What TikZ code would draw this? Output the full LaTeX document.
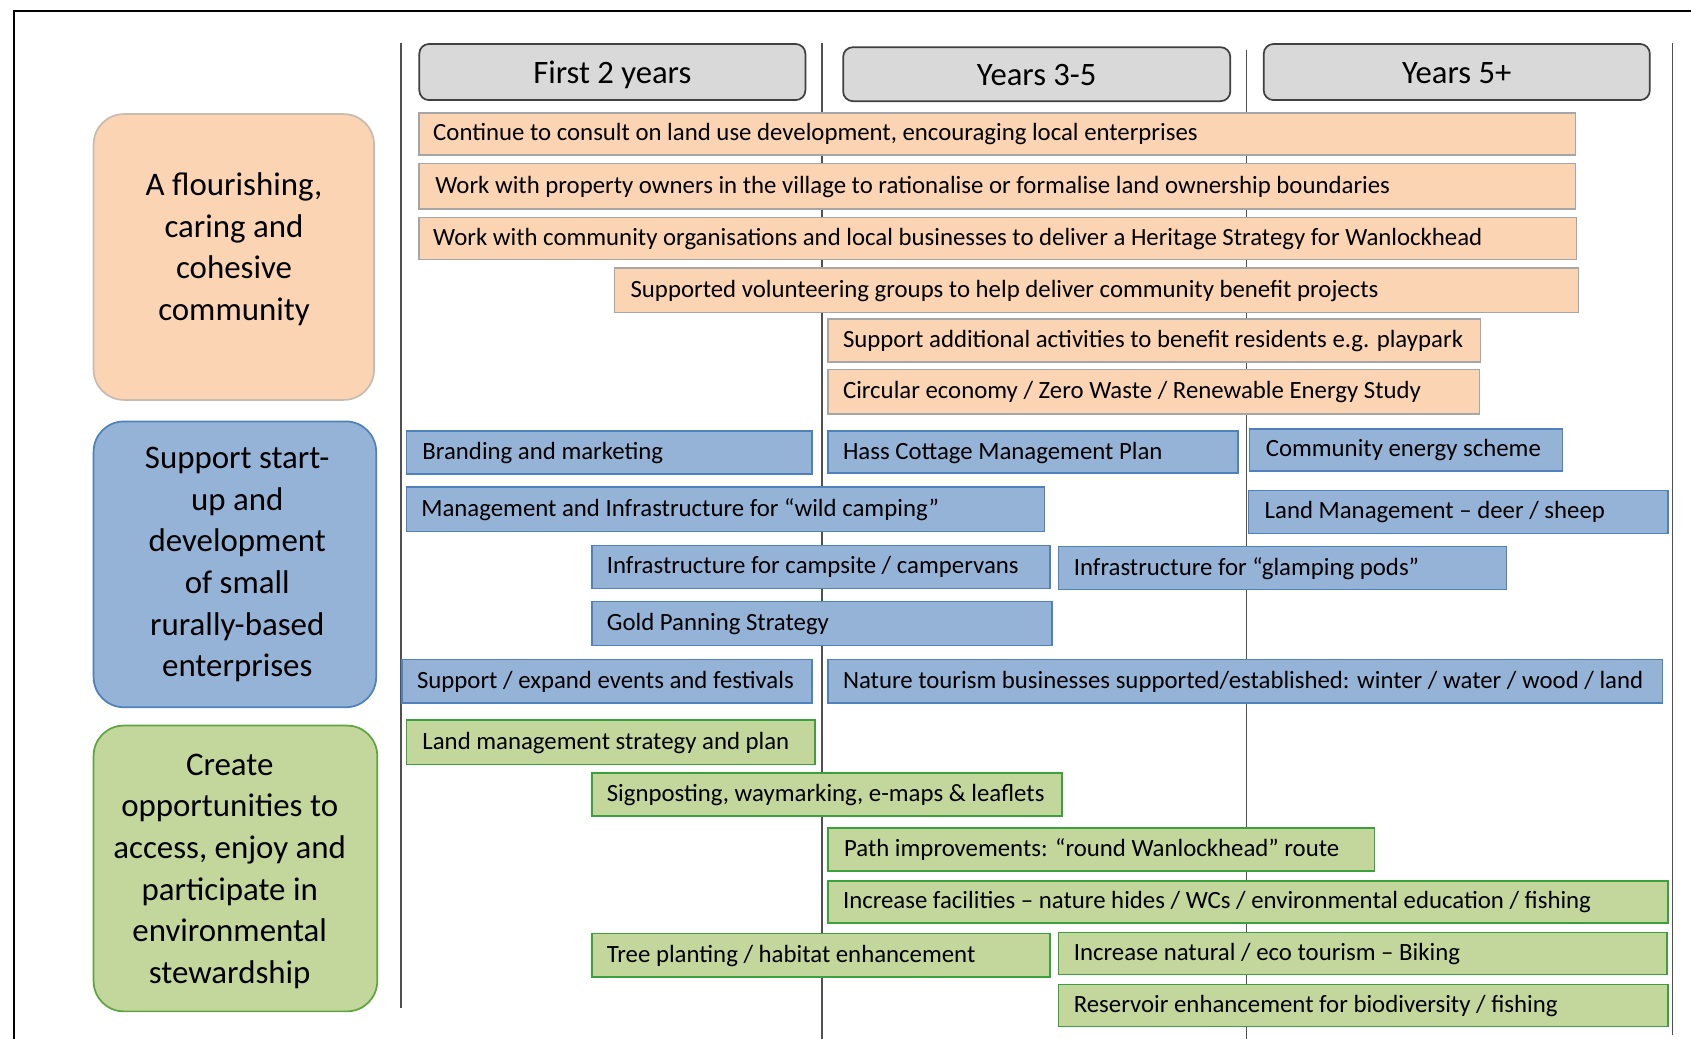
\documentclass[tikz,border=0pt]{standalone}
\usepackage{fontspec}
\setmainfont{Carlito}
\definecolor{peach}{HTML}{FBD4B4}
\definecolor{peachline}{HTML}{A6A6A6}
\definecolor{peachcat}{HTML}{C9BBAE}
\definecolor{bluef}{HTML}{95B3D7}
\definecolor{blueline}{HTML}{4F81BD}
\definecolor{greenf}{HTML}{C3D69B}
\definecolor{greenline}{HTML}{3CA03C}
\definecolor{greencat}{HTML}{5EA540}
\definecolor{hdrf}{HTML}{D9D9D9}
\definecolor{hdrline}{HTML}{404040}
\definecolor{gridc}{HTML}{505050}
\tikzset{
  barbase/.style={draw, line width=1.4pt, inner ysep=0pt, font=\fontsize{23}{27}\selectfont, text height=17pt, text depth=4pt},
  ob/.style={barbase, fill=peach, draw=peachline},
  bb/.style={barbase, fill=bluef, draw=blueline},
  gb/.style={barbase, fill=greenf, draw=greenline},
  hdr/.style={draw=hdrline, fill=hdrf, rounded corners=9pt, line width=1.6pt, anchor=north west,
    font=\fontsize{30.3}{36}\selectfont, text height=24pt, text depth=3pt},
  catbox/.style={rounded corners=28pt, line width=1.6pt, anchor=north west},
  cattext/.style={align=center, font=\fontsize{30.5}{38.6}\selectfont},
  gridline/.style={draw=gridc, line width=1.4pt},
}
\newcommand{\tbox}[8]{%
  \node[#1, anchor=north west, minimum height={(#6-#4)*1pt}, inner xsep={(#7-#3)*1pt}] (#2) at (#3,#4)
    {\makebox[\dimexpr #5pt+#3pt-#7pt-#7pt\relax][l]{#8}};}
\begin{document}
\begin{tikzpicture}[x=1pt, y=-1pt]
\useasboundingbox (0,0) rectangle (1568,963);
\fill[white] (0,0) rectangle (1568,963);
% outer frame
\draw[black, line width=2pt] (12,10) -- (1568,10);
\draw[black, line width=2pt] (13,10) -- (13,963);
% grid lines
\draw[gridline] (372,40) -- (372,935);
\draw[gridline] (762,40) -- (762,963);
\draw[gridline] (1156,46) -- (1156,963);
\draw[gridline] (1551,40) -- (1551,960);
% headers
\node[hdr, minimum width=358pt, minimum height=52pt] (h1) at (388,40) {First 2 years};
\node[hdr, minimum width=359pt, minimum height=50pt] (h2) at (781,43) {Years 3-5};
\node[hdr, minimum width=358pt, minimum height=52pt] (h3) at (1171,40) {Years 5+};
% category boxes
\node[catbox, fill=peach, draw=peachcat, minimum width=260pt, minimum height=265pt] (c1) at (86,105) {};
\node[cattext] (c1t) at (217,231) {A flourishing,\\caring and\\cohesive\\community};
\node[catbox, fill=bluef, draw=blueline, minimum width=262pt, minimum height=265pt] (c2) at (86,390) {};
\node[cattext] (c2t) at (220,523.5) {Support start-\\up and\\development\\of small\\rurally-based\\enterprises};
\node[catbox, fill=greenf, draw=greencat, minimum width=263pt, minimum height=265pt] (c3) at (86,672) {};
\node[cattext] (c3t) at (213,808) {Create\\opportunities to\\access, enjoy and\\participate in\\environmental\\stewardship};
% orange bars
\tbox{ob}{o1}{388}{104}{1460}{143}{401}{Continue to consult on land use development, encouraging local enterprises}
\tbox{ob}{o2}{388}{151}{1460}{193}{403}{Work with property owners in the village to rationalise or formalise land ownership boundaries}
\tbox{ob}{o3}{388}{201}{1461}{240}{401}{Work with community organisations and local businesses to deliver a Heritage Strategy for Wanlockhead}
\tbox{ob}{o4}{569}{248}{1463}{289}{584}{Supported volunteering groups to help deliver community benefit projects}
\tbox{ob}{o5}{767}{295}{1372}{335}{781}{Support additional activities to benefit residents e.g. playpark}
\tbox{ob}{o6}{767}{342}{1371}{383}{781}{Circular economy / Zero Waste / Renewable Energy Study}
% blue bars
\tbox{bb}{b1}{376}{399}{752}{439}{391}{Branding and marketing}
\tbox{bb}{b2}{767}{399}{1147}{438}{781}{Hass Cottage Management Plan}
\tbox{bb}{b3}{1158}{397}{1448}{436}{1173}{Community energy scheme}
\tbox{bb}{b4}{376}{451}{968}{492}{390}{Management and Infrastructure for “wild camping”}
\tbox{bb}{b5}{1157}{454}{1546}{494}{1172}{Land Management – deer / sheep}
\tbox{bb}{b6}{548}{505}{973}{545}{562}{Infrastructure for campsite / campervans}
\tbox{bb}{b7}{981}{506}{1396}{546}{995}{Infrastructure for “glamping pods”}
\tbox{bb}{b8}{548}{557}{975}{598}{562}{Gold Panning Strategy}
\tbox{bb}{b9}{372}{611}{752}{651}{386}{Support / expand events and festivals}
\tbox{bb}{b10}{767}{611}{1541}{651}{781}{Nature tourism businesses supported/established: winter / water / wood / land}
% green bars
\tbox{gb}{g1}{376}{667}{755}{708}{391}{Land management strategy and plan}
\tbox{gb}{g2}{548}{716}{984}{756}{562}{Signposting, waymarking, e-maps \& leaflets}
\tbox{gb}{g3}{767}{767}{1274}{807}{782}{Path improvements: “round Wanlockhead” route}
\tbox{gb}{g4}{767}{816}{1546}{855}{781}{Increase facilities – nature hides / WCs / environmental education / fishing}
\tbox{gb}{g5}{548}{865}{973}{905}{562}{Tree planting / habitat enhancement}
\tbox{gb}{g6}{981}{864}{1545}{903}{995}{Increase natural / eco tourism – Biking}
\tbox{gb}{g7}{981}{912}{1546}{951}{995}{Reservoir enhancement for biodiversity / fishing}
\end{tikzpicture}
\end{document}
